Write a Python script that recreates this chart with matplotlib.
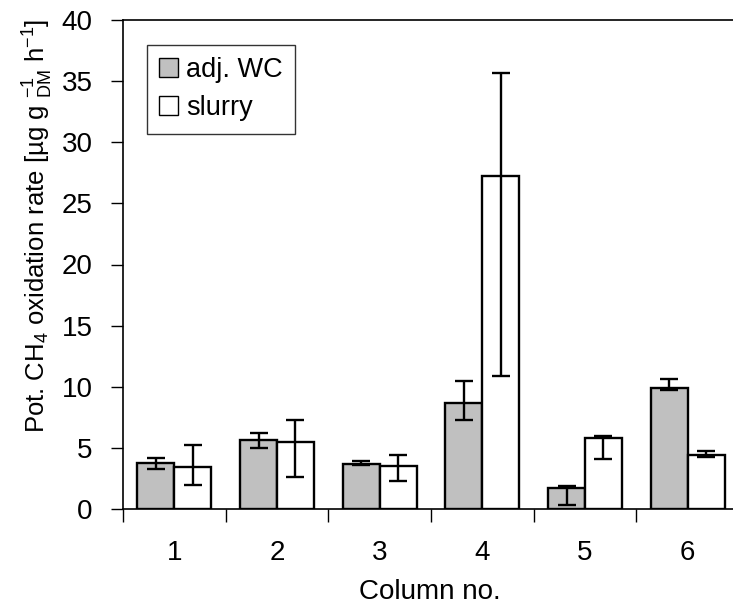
import numpy as np
import matplotlib
matplotlib.use('Agg')
import matplotlib.pyplot as plt
from matplotlib.patches import Patch

plt.rcParams['font.family'] = ['Liberation Sans', 'DejaVu Sans']
plt.rcParams['mathtext.fontset'] = 'custom'
plt.rcParams['mathtext.rm'] = 'Liberation Sans'
plt.rcParams['mathtext.it'] = 'Liberation Sans'

# Data
columns = ['1', '2', '3', '4', '5', '6']
adj_wc = [3.8, 5.65, 3.7, 8.65, 1.7, 9.9]
adj_wc_err_lo = [0.55, 0.65, 0.1, 1.35, 1.35, 0.15]
adj_wc_err_hi = [0.35, 0.6, 0.2, 1.85, 0.15, 0.75]
slurry = [3.4, 5.5, 3.55, 27.2, 5.8, 4.4]
slurry_err_lo = [1.4, 2.9, 1.25, 16.3, 1.7, 0.15]
slurry_err_hi = [1.8, 1.8, 0.9, 8.5, 0.15, 0.35]

fig = plt.figure(figsize=(7.33, 6.14), dpi=100)
ax = fig.add_axes([123 / 733, 1 - 509 / 614, 616 / 733, 489 / 614])

x = np.arange(len(columns))
w = 0.36
err_kw = dict(ecolor='black', elinewidth=1.7, capsize=6.5, capthick=1.7)

ax.bar(x - w / 2, adj_wc, w, color='#c0c0c0', edgecolor='black', linewidth=1.7,
       yerr=[adj_wc_err_lo, adj_wc_err_hi], error_kw=err_kw, label='adj. WC')
ax.bar(x + w / 2, slurry, w, color='white', edgecolor='black', linewidth=1.7,
       yerr=[slurry_err_lo, slurry_err_hi], error_kw=err_kw, label='slurry')

ax.set_xlim(-0.5, len(columns) - 0.5)
ax.set_ylim(0, 40)
ax.set_yticks(range(0, 41, 5))
ax.set_xticks(x)
ax.set_xticklabels(columns)
ax.set_xticks(np.arange(-0.5, len(columns)), minor=True)

ax.tick_params(axis='y', direction='out', length=9, width=1, pad=13, labelsize=20)
ax.tick_params(axis='x', which='major', length=0, pad=22, labelsize=20)
ax.tick_params(axis='x', which='minor', direction='out', length=9, width=1)

for s in ax.spines.values():
    s.set_linewidth(1.2)

fig.text(38 / 733, 1 - 226 / 614,
         r'Pot. CH$_{4}$ oxidation rate [µg g $_{\mathregular{DM}}^{\mathregular{-1}}$ h$^{\mathregular{-1}}$]',
         rotation=90, ha='center', va='center', fontsize=18.5)
fig.text(430 / 733, 1 - 592 / 614, 'Column no.',
         ha='center', va='center', fontsize=20)

handles = [Patch(facecolor='#c0c0c0', edgecolor='black', linewidth=1),
           Patch(facecolor='white', edgecolor='black', linewidth=1)]
leg = ax.legend(handles, ['adj. WC', 'slurry'], loc='upper left',
                bbox_to_anchor=(147 / 733, 1 - 45 / 614), bbox_transform=fig.transFigure,
                borderaxespad=0, fontsize=19.5, frameon=True, fancybox=False,
                handlelength=0.7, handleheight=0.7, handletextpad=0.3,
                labelspacing=0.45, borderpad=0.45)
leg.get_frame().set_edgecolor('black')
leg.get_frame().set_linewidth(1)

fig.savefig('out.png', dpi=100)
